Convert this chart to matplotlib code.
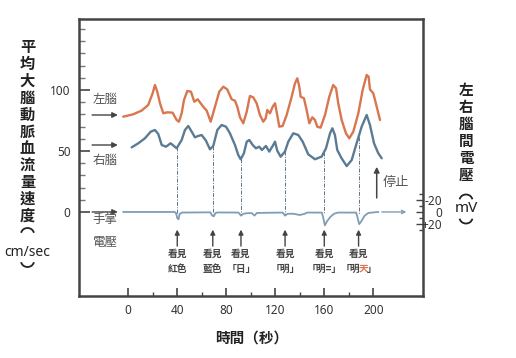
import numpy as np
import matplotlib.pyplot as plt
from matplotlib.patches import Arc
from matplotlib.transforms import IdentityTransform

plt.rcParams['font.family'] = ['Noto Sans CJK TC', 'DejaVu Sans']

# left brain (orange) flow velocity, cm/sec
left_t = [-4.1, 4.1, 10.9, 16.3, 19.9, 21.8, 23.7, 25.9, 28.6, 31.9, 36.2, 39.5, 41.4,
          43.6, 45.5, 48.2, 51.2, 53.9, 56.7, 59.1, 61.2, 64.0, 67.3, 70.8, 74.3, 77.6,
          80.8, 84.4, 87.1, 89.0, 91.2, 93.9, 96.7, 99.3, 102.0, 104.8, 107.5, 110.2,
          112.2, 113.5, 115.7, 117.9, 119.8, 121.6, 123.3, 126.0, 129.3, 133.4, 136.1,
          138.0, 139.6, 140.7, 143.4, 145.6, 147.8, 150.2, 152.4, 154.3, 157.0, 160.6,
          164.1, 167.3, 169.6, 171.4, 174.2, 177.7, 180.4, 183.7, 187.8, 191.3, 194.6,
          196.2, 197.3, 200.0, 202.8, 205.5]
left_v = [78.1, 80.1, 83.1, 87.7, 97.3, 104.1, 98.6, 89.1, 80.9, 81.7, 81.4, 75.4, 74.0,
          80.9, 91.8, 99.2, 98.6, 90.4, 92.4, 89.1, 86.3, 83.1, 74.0, 86.3, 98.6, 102.7,
          100.5, 92.4, 91.2, 86.3, 77.6, 72.7, 82.2, 95.1, 94.0, 89.1, 79.5, 74.0,
          76.8, 83.6, 80.9, 86.3, 89.1, 79.5, 69.9, 70.5, 79.5, 94.5, 105.5,
          109.6, 102.7, 94.5, 93.2, 83.6, 72.7, 77.6, 75.4, 69.9, 69.1, 79.5,
          94.5, 104.1, 101.4, 89.1, 75.4, 64.5, 60.4, 65.8, 80.9, 99.9, 112.3,
          110.9, 100.5, 97.3, 86.3, 75.4]

# right brain (blue) flow velocity, cm/sec
right_t = [2.8, 8.2, 13.6, 18.3, 21.8, 24.5, 27.3, 30.8, 34.6, 39.5, 43.6, 46.3, 49.0,
           51.8, 54.4, 57.1, 59.9, 63.4, 66.7, 69.4, 72.7, 76.2, 79.8, 83.0, 87.1, 89.8,
           91.8, 94.4, 96.7, 98.8, 101.6, 104.2, 106.9, 109.1, 112.4, 115.1, 117.9, 119.8,
           121.6, 124.4, 127.9, 130.6, 134.7, 138.8, 142.4, 146.9, 152.4, 157.9, 161.4,
           164.7, 166.6, 168.7, 170.6, 174.2, 178.3, 182.4, 186.4, 190.5, 194.6, 197.3,
           200.6, 204.1, 206.9]
right_v = [53.0, 56.3, 60.4, 65.8, 67.2, 63.9, 54.9, 53.5, 56.3, 52.2, 59.0, 67.2, 70.5,
           65.8, 61.2, 62.3, 63.1, 58.5, 51.4, 54.1, 67.2, 71.3, 69.9, 64.5, 54.9, 46.7,
           43.2, 48.1, 57.6, 59.0, 54.9, 52.2, 53.5, 50.8, 54.1, 49.5, 54.1, 57.6,
           50.3, 45.3, 49.5, 57.6, 64.5, 63.1, 57.6, 47.3, 43.2, 45.4, 52.2,
           64.5, 68.6, 63.1, 50.8, 43.9, 37.6, 42.6, 56.3, 69.9, 79.5, 71.3,
           56.3, 48.1, 44.0]

# palm electrode trace (drawn on the velocity scale)
hand_t = [-4, 38, 39, 40, 41, 42, 44, 67, 68.5, 70, 71, 73, 90, 92, 94, 97, 101, 103,
          105, 126, 128, 130, 135, 140, 144, 146, 158, 159, 160.5, 162, 165, 168, 171,
          186, 187, 188.5, 190, 193, 196, 204]
hand_v = [0, 0, -1, -5, -6, -1.5, -0.5, -0.3, -3, -3.5, -1, -0.4, -0.5, -3, -1.5, -1, -1,
          -3, -0.8, -0.5, -3, -1.5, -1.5, -2.5, -1.5, -0.5, -0.5, -4, -11, -8, -4, -1.5,
          -0.5, -0.5, -4, -10, -8, -3, -0.8, 0]

event_t = [40, 69, 92, 128, 160, 188]
event_line2 = ['紅色', '藍色', '｢日｣', '｢明｣', '｢明=｣']
last_parts = ['｢明', '天', '｣']

x_ticks = [0, 40, 80, 120, 160, 200]
x_minor = [20, 60, 100, 140, 180]
y_ticks = [0, 50, 100]
y_minor = [10, 20, 30, 40, 60, 70, 80, 90, 110, 120, 130, 140, 150]
mv_ticks = [-20, 0, 20]
mv_labels = ['-20', '0', '+20']
mv_minor = [-30, -10, 10, 30]

orange = '#d8764f'
blue = '#5b7b94'
dark = '#444444'
text_c = '#555555'

fig = plt.figure(figsize=(5.16, 3.58), dpi=100)
ax = fig.add_axes([0.1531, 0.1732, 0.6667, 0.7737])
ax.set_xlim(-40.2, 240.6)
ax.set_ylim(-68.9, 158.2)

for s in ax.spines.values():
    s.set_color(dark)
    s.set_linewidth(1.8)

ax.plot(left_t, left_v, color=orange, lw=1.7, solid_capstyle='round', solid_joinstyle='round')
ax.plot(right_t, right_v, color=blue, lw=1.7, solid_capstyle='round', solid_joinstyle='round')
ax.plot(hand_t, hand_v, color='#7f9db5', lw=1.3)

# dash-dot guide lines from right trace down to the palm trace
for t in event_t:
    top = np.interp(t, right_t, right_v)
    ax.plot([t, t], [top, -2], color='#5f7386', lw=0.7, ls=(0, (4, 1.5, 1, 1.5)))
    ax.annotate('', xy=(t, -14.5), xytext=(t, -28),
                arrowprops=dict(arrowstyle='-|>', color=dark, lw=1.0,
                                mutation_scale=7, shrinkA=0, shrinkB=0))
    ax.text(t, -34.4, '看見', ha='center', va='center', fontsize=7,
            fontweight='bold', color=dark)

for t, lab in zip(event_t, event_line2):
    ax.text(t, -46.5, lab, ha='center', va='center', fontsize=7,
            fontweight='bold', color=dark)

# last label: three pieces side by side, middle one orange
r = fig.canvas.get_renderer()
pieces = [ax.text(0, 0, s, fontsize=7, fontweight='bold', color=c, ha='left', va='center',
                  transform=IdentityTransform())
          for s, c in zip(last_parts, [dark, orange, dark])]
widths = [p.get_window_extent(r).width for p in pieces]
gap = -1.5
cx, cy = ax.transData.transform((event_t[-1], -46.5))
cur = cx - (sum(widths) + gap * (len(widths) - 1)) / 2
for p, w in zip(pieces, widths):
    p.set_position((cur, cy))
    cur += w + gap

# left side labels and arrows
for yy in [79.5, 54.9, 0]:
    ax.annotate('', xy=(-8.5, yy), xytext=(-29.5, yy),
                arrowprops=dict(arrowstyle='-|>', color=dark, lw=1.0,
                                mutation_scale=8, shrinkA=0, shrinkB=0))
ax.text(-19, 92.0, '左腦', ha='center', va='center', fontsize=9, color=text_c)
ax.text(-19, 42.6, '右腦', ha='center', va='center', fontsize=9, color=text_c)
ax.text(-19, -5.8, '手掌', ha='center', va='center', fontsize=9, color=text_c)
ax.text(-19, -25.0, '電壓', ha='center', va='center', fontsize=9, color=text_c)

# stop marker
ax.annotate('', xy=(202.8, 37), xytext=(202.8, 11.5),
            arrowprops=dict(arrowstyle='-|>', color=dark, lw=1.1,
                            mutation_scale=8, shrinkA=0, shrinkB=0))
ax.text(207.5, 23.8, '停止', ha='left', va='center', fontsize=9.5, color=text_c)
ax.annotate('', xy=(227, 0), xytext=(207, 0),
            arrowprops=dict(arrowstyle='->', color='#7f9db5', lw=1.0,
                            mutation_scale=6, shrinkA=0, shrinkB=0))

# ticks
ax.set_xticks(x_ticks)
ax.set_xticks(x_minor, minor=True)
ax.set_yticks(y_ticks)
ax.set_yticks(y_minor, minor=True)
ax.tick_params(axis='both', which='both', direction='in', color=dark,
               labelcolor='#333333', labelsize=8.5, right=False, top=False)
ax.tick_params(axis='x', which='major', length=6, width=1.2, pad=6)
ax.tick_params(axis='x', which='minor', length=3, width=1.0)
ax.tick_params(axis='y', which='major', length=8, width=1.2, pad=6)
ax.tick_params(axis='y', which='minor', length=4, width=1.0, color='#777777')
for lab in ax.get_xticklabels() + ax.get_yticklabels():
    lab.set_fontfamily('Noto Sans')

ax2 = ax.twinx()
ax2.set_ylim(137.8, -316.4)
for s in ax2.spines.values():
    s.set_visible(False)
ax2.set_yticks(mv_ticks)
ax2.set_yticklabels(mv_labels, ha='right', fontfamily='Noto Sans')
ax2.set_yticks(mv_minor, minor=True)
ax2.tick_params(axis='y', which='both', direction='in', color=dark,
                labelcolor='#333333', labelsize=8.5)
ax2.tick_params(axis='y', which='major', length=5, width=1.0, pad=14)
ax2.tick_params(axis='y', which='minor', length=3, width=1.0)

# axis titles, stacked vertically
W, H = 516, 358
ink = '#222222'


def vbracket(xc, yc, up):
    # vertical-form parenthesis drawn as a shallow arc, pixel position from top-left
    if up:
        a = Arc((xc / W, 1 - (yc + 4) / H), 13 / W, 12 / H, theta1=15, theta2=165,
                transform=fig.transFigure, color=ink, lw=1.3)
    else:
        a = Arc((xc / W, 1 - (yc - 4) / H), 13 / W, 12 / H, theta1=195, theta2=345,
                transform=fig.transFigure, color=ink, lw=1.3)
    fig.add_artist(a)


left_title = '平均大腦動脈血流量速度'
for i, ch in enumerate(left_title):
    fig.text(27.5 / W, 1 - (47 + i * 16.9) / H, ch, ha='center', va='center',
             fontsize=11, fontweight='bold', color=ink)
vbracket(27.5, 230, True)
fig.text(27 / W, 1 - 252 / H, 'cm/sec', ha='center', va='center', fontsize=10,
         family='Noto Sans', color=ink)
vbracket(27.5, 265, False)

right_title = '左右腦間電壓'
for i, ch in enumerate(right_title):
    fig.text(466 / W, 1 - (89.5 + i * 17.1) / H, ch, ha='center', va='center',
             fontsize=10.5, fontweight='bold', color=ink)
vbracket(466, 196.5, True)
fig.text(466 / W, 1 - 209 / H, 'mV', ha='center', va='center', fontsize=11,
         family='Noto Sans', color=ink)
vbracket(466, 221.5, False)

fig.text(251.5 / W, 1 - 338 / H, '時間（秒）', ha='center', va='center',
         fontsize=10.5, fontweight='bold', color=ink)

fig.savefig('out.png', dpi=100)
